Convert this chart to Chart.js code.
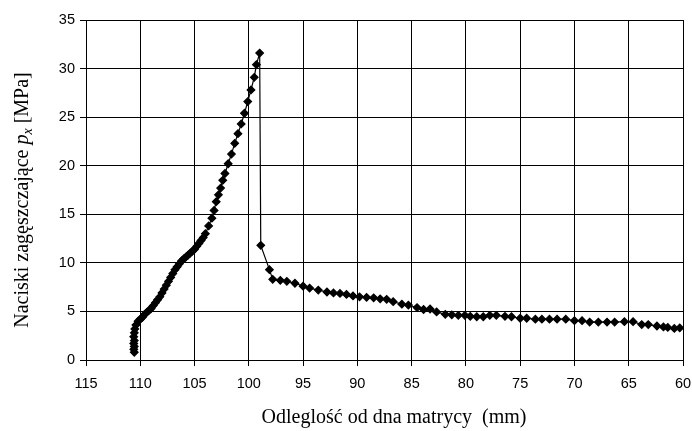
<!DOCTYPE html>
<html>
<head>
<meta charset="utf-8">
<script src="https://cdn.jsdelivr.net/npm/chart.js@4.4.0/dist/chart.umd.min.js"></script>
<style>
  body { margin: 0; background: #fff; }
  #wykres { display: block; }
</style>
</head>
<body>
<canvas id="wykres" width="692" height="431"></canvas>
<script>
// odleglosc od dna matrycy [mm] - galaz narastajaca
const odlegloscWzrost = [110.55, 110.6, 110.55, 110.6, 110.55, 110.6, 110.55, 110.5, 110.4, 110.2,
  110.0, 109.8, 109.6, 109.4, 109.2, 109.0, 108.8, 108.6, 108.4, 108.2,
  108.0, 107.8, 107.6, 107.4, 107.2, 107.0, 106.8, 106.6, 106.4, 106.2,
  106.0, 105.8, 105.6, 105.4, 105.2, 105.0, 104.8, 104.6, 104.4, 104.2,
  104.0, 103.7, 103.4, 103.2, 103.0, 102.8, 102.6, 102.4, 102.2, 101.9,
  101.6, 101.3, 101.0, 100.7, 100.4, 100.1, 99.8, 99.5, 99.3, 99.0];
// naciski [MPa] - galaz narastajaca
const naciskWzrost = [0.8, 1.1, 1.4, 1.7, 2.0, 2.4, 2.8, 3.2, 3.6, 4.0,
  4.2, 4.4, 4.7, 4.9, 5.1, 5.3, 5.6, 5.9, 6.2, 6.5,
  6.9, 7.3, 7.7, 8.1, 8.5, 8.9, 9.3, 9.6, 9.9, 10.2,
  10.4, 10.6, 10.8, 11.0, 11.2, 11.4, 11.7, 12.0, 12.3, 12.6,
  13.0, 13.8, 14.6, 15.4, 16.3, 17.0, 17.7, 18.5, 19.2, 20.2,
  21.2, 22.3, 23.3, 24.3, 25.4, 26.6, 27.8, 29.1, 30.4, 31.6];
// galaz opadajaca
const odlegloscSpadek = [98.9, 98.1, 97.8, 97.1, 96.5, 95.75, 95.0, 94.4, 93.6, 92.8,
  92.2, 91.6, 91.0, 90.4, 89.8, 89.15, 88.5, 87.9, 87.3, 86.7,
  85.9, 85.3, 84.5, 83.9, 83.3, 82.7, 81.9, 81.3, 80.7, 80.1,
  79.6, 79.0, 78.4, 77.8, 77.2, 76.4, 75.8, 75.0, 74.4, 73.6,
  73.0, 72.3, 71.6, 70.8, 70.0, 69.3, 68.6, 67.8, 67.0, 66.3,
  65.4, 64.6, 63.8, 63.2, 62.4, 61.8, 61.4, 60.8, 60.3];
const naciskSpadek = [11.8, 9.3, 8.3, 8.2, 8.1, 7.9, 7.6, 7.4, 7.2, 7.0,
  6.9, 6.85, 6.75, 6.6, 6.5, 6.45, 6.4, 6.3, 6.25, 6.0,
  5.75, 5.65, 5.4, 5.2, 5.25, 4.95, 4.7, 4.65, 4.6, 4.6,
  4.5, 4.45, 4.45, 4.6, 4.6, 4.5, 4.45, 4.3, 4.3, 4.2,
  4.2, 4.2, 4.2, 4.2, 4.05, 4.05, 3.9, 3.9, 3.9, 3.9,
  3.95, 3.95, 3.65, 3.65, 3.5, 3.4, 3.35, 3.25, 3.3];

const tytulX = 'Odleglość od dna matrycy  (mm)';
const tytulY1 = 'Naciski zagęszczające ';
const tytulY2 = ' [MPa]';

// punkty do wykresu
const punkty = [];
odlegloscWzrost.forEach((x, i) => punkty.push({ x: x, y: naciskWzrost[i] }));
odlegloscSpadek.forEach((x, i) => punkty.push({ x: x, y: naciskSpadek[i] }));

const FONT_SERIF = '"Liberation Serif", "Times New Roman", serif';
const FONT_SANS = '"Liberation Sans", Arial, sans-serif';

// tytuly osi rysowane recznie (kursywa p i indeks x)
const tytulyOsi = {
  id: 'tytulyOsi',
  afterDraw(chart) {
    const c = chart.ctx;
    c.save();
    c.fillStyle = '#000';
    c.font = '20px ' + FONT_SERIF;
    c.textAlign = 'center';
    c.textBaseline = 'middle';
    c.fillText(tytulX, 394, 418);

    // os Y
    c.translate(23, 200);
    c.rotate(-Math.PI / 2);
    c.textAlign = 'left';
    c.textBaseline = 'middle';
    c.font = '20px ' + FONT_SERIF;
    const w1 = c.measureText(tytulY1).width;
    const w4 = c.measureText(tytulY2).width;
    c.font = 'italic 20px ' + FONT_SERIF;
    const w2 = c.measureText('p').width;
    c.font = 'italic 14px ' + FONT_SERIF;
    const w3 = c.measureText('x').width;
    let x = -(w1 + w2 + w3 + w4) / 2;
    c.font = '20px ' + FONT_SERIF;
    c.fillText(tytulY1, x, 0); x += w1;
    c.font = 'italic 20px ' + FONT_SERIF;
    c.fillText('p', x, 0); x += w2;
    c.font = 'italic 14px ' + FONT_SERIF;
    c.fillText('x', x, 5); x += w3;
    c.font = '20px ' + FONT_SERIF;
    c.fillText(tytulY2, x, 0);
    c.restore();
  }
};

new Chart(document.getElementById('wykres'), {
  type: 'scatter',
  data: {
    datasets: [{
      data: punkty,
      showLine: true,
      borderColor: '#000',
      borderWidth: 1.2,
      backgroundColor: '#000',
      pointStyle: 'rectRot',
      pointRadius: 3.8,
      pointHoverRadius: 3.8,
      tension: 0
    }]
  },
  options: {
    responsive: false,
    animation: false,
    events: [],
    layout: { padding: { top: 20, right: 9, left: 0, bottom: 0 } },
    plugins: { legend: { display: false }, tooltip: { enabled: false } },
    scales: {
      x: {
        type: 'linear',
        reverse: true,
        min: 60,
        max: 115,
        afterFit: (s) => { s.height = 71; s.paddingLeft = 0; s.paddingRight = 0; },
        ticks: {
          stepSize: 5,
          color: '#000',
          padding: 9,
          font: { family: FONT_SANS, size: 14.5 }
        },
        grid: { color: '#000', lineWidth: 1, tickLength: 6 },
        border: { color: '#000', width: 1 }
      },
      y: {
        min: 0,
        max: 35,
        afterFit: (s) => { s.width = 86; s.paddingTop = 0; s.paddingBottom = 0; },
        ticks: {
          stepSize: 5,
          color: '#000',
          padding: 5,
          font: { family: FONT_SANS, size: 14.5 }
        },
        grid: { color: '#000', lineWidth: 1, tickLength: 6 },
        border: { color: '#000', width: 1 }
      }
    }
  },
  plugins: [tytulyOsi]
});
</script>
</body>
</html>
